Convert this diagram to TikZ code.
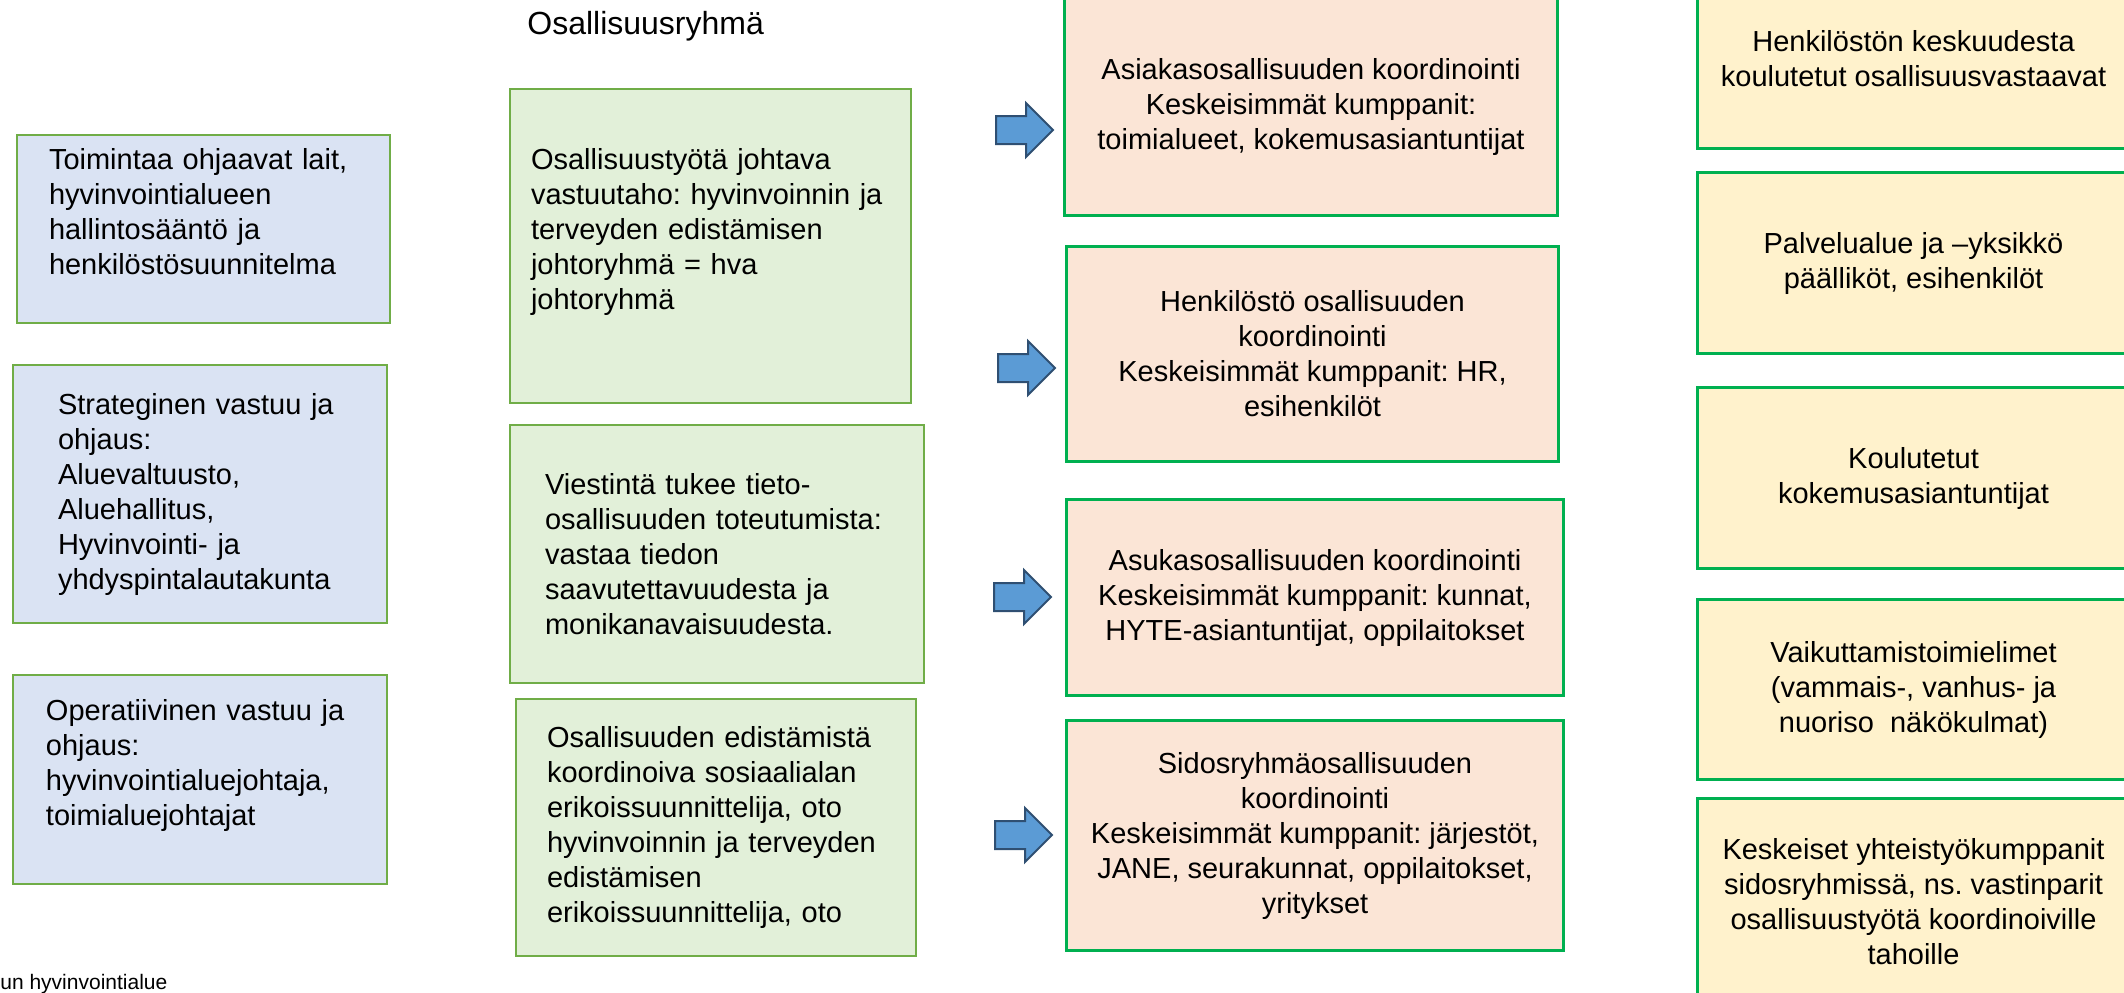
\documentclass[tikz,border=0pt]{standalone}
\usepackage{fontspec}
\setmainfont{Liberation Sans}
\usetikzlibrary{shapes.arrows}
\definecolor{BlueFill}{HTML}{DAE3F3}
\definecolor{GreenFill}{HTML}{E2F0D9}
\definecolor{PeachFill}{HTML}{FBE5D6}
\definecolor{YellowFill}{HTML}{FFF2CC}
\definecolor{OliveLine}{HTML}{70AD47}
\definecolor{BrightGreen}{HTML}{00B050}
\definecolor{ArrowBlue}{HTML}{5B9BD5}
\definecolor{ArrowLine}{HTML}{2F4F72}
\setlength{\parindent}{0pt}
\frenchspacing

\begin{document}
\begin{tikzpicture}[
  x=0.5pt, y=-0.5pt,
  every node/.style={font=\fontsize{14.5pt}{17.5pt}\selectfont},
  basebox/.style={rectangle, anchor=north west, inner ysep=0pt},
  lawbox/.style={basebox, draw=OliveLine, line width=1pt, fill=BlueFill, align=left},
  groupbox/.style={basebox, draw=OliveLine, line width=1pt, fill=GreenFill, align=left},
  coordbox/.style={basebox, draw=BrightGreen, line width=1.5pt, fill=PeachFill, align=center},
  agentbox/.style={basebox, draw=BrightGreen, line width=1.5pt, fill=YellowFill, align=center},
  blockarrow/.style={single arrow, draw=ArrowLine, line width=1pt, fill=ArrowBlue, anchor=tail,
    inner xsep=0pt, inner ysep=6.5pt, minimum height=28.5pt, single arrow head extend=6.5pt}
]
\useasboundingbox (0,0) rectangle (2124,992);

% left column: steering
\node[lawbox, minimum width=186.5pt, minimum height=94pt, text width=154.5pt, inner xsep=16pt] (laws) at (16,134)
  {Toimintaa ohjaavat lait,\\ hyvinvointialueen\\ hallintosääntö ja\\ henkilöstösuunnitelma\\ \mbox{}};
\node[lawbox, minimum width=187pt, minimum height=129pt, text width=142pt, inner xsep=22.5pt] (strategic) at (12,364)
  {Strateginen vastuu ja\\ ohjaus:\\ Aluevaltuusto,\\ Aluehallitus,\\ Hyvinvointi- ja\\ yhdyspintalautakunta};
\node[lawbox, minimum width=187pt, minimum height=104.5pt, text width=154pt, inner xsep=16.5pt] (operative) at (12,674)
  {Operatiivinen vastuu ja\\ ohjaus:\\ hyvinvointialuejohtaja,\\ toimialuejohtajat\\ \mbox{}};

% participation group
\node[font=\fontsize{16pt}{19pt}\selectfont, anchor=base west, inner sep=0pt] (title) at (527,34) {Osallisuusryhmä};
\node[groupbox, minimum width=200.5pt, minimum height=157pt, text width=179.5pt, inner xsep=10.5pt] (lead) at (509,88)
  {Osallisuustyötä johtava\\ vastuutaho: hyvinvoinnin ja\\ terveyden edistämisen\\ johtoryhmä = hva\\ johtoryhmä\\ \mbox{}};
\node[groupbox, minimum width=207pt, minimum height=129pt, text width=172pt, inner xsep=17.5pt] (comms) at (509,424)
  {Viestintä tukee tieto-\\ osallisuuden toteutumista:\\ vastaa tiedon\\ saavutettavuudesta ja\\ monikanavaisuudesta.};
\node[groupbox, minimum width=200pt, minimum height=128.5pt, text width=169pt, inner xsep=15.5pt] (planners) at (515,698)
  {Osallisuuden edistämistä\\ koordinoiva sosiaalialan\\ erikoissuunnittelija, oto\\ hyvinvoinnin ja terveyden\\ edistämisen\\ erikoissuunnittelija, oto};

% block arrows
\node[blockarrow] (arr1) at (995,130) {};
\node[blockarrow] (arr2) at (997,368) {};
\node[blockarrow] (arr3) at (993,597) {};
\node[blockarrow] (arr4) at (994,835) {};

% coordination
\node[coordbox, minimum width=246.5pt, minimum height=108.5pt] (client) at (1063,-3)
  {Asiakasosallisuuden koordinointi\\ Keskeisimmät kumppanit:\\ toimialueet, kokemusasiantuntijat};
\node[coordbox, minimum width=246pt, minimum height=107.5pt] (staff) at (1065,245)
  {Henkilöstö osallisuuden\\ koordinointi\\ Keskeisimmät kumppanit: HR,\\ esihenkilöt};
\node[coordbox, minimum width=248.5pt, minimum height=98pt] (resident) at (1065,498)
  {Asukasosallisuuden koordinointi\\ Keskeisimmät kumppanit: kunnat,\\ HYTE-asiantuntijat, oppilaitokset};
\node[coordbox, minimum width=248.5pt, minimum height=115pt] (stakeholder) at (1065,719)
  {Sidosryhmäosallisuuden\\ koordinointi\\ Keskeisimmät kumppanit: järjestöt,\\ JANE, seurakunnat, oppilaitokset,\\ yritykset};

% right column
\node[agentbox, minimum width=216pt, minimum height=89.5pt] (trained) at (1696,-32)
  {Henkilöstön keskuudesta\\ koulutetut osallisuusvastaavat};
\node[agentbox, minimum width=216pt, minimum height=90.5pt] (managers) at (1696,171)
  {Palvelualue ja –yksikkö\\ päälliköt, esihenkilöt};
\node[agentbox, minimum width=216pt, minimum height=90.5pt] (experts) at (1696,386)
  {Koulutetut\\ kokemusasiantuntijat};
\node[agentbox, minimum width=216pt, minimum height=90pt] (councils) at (1696,598)
  {Vaikuttamistoimielimet\\ (vammais-, vanhus- ja\\ nuoriso~ näkökulmat)};
\node[agentbox, minimum width=216pt, minimum height=103pt] (partners) at (1696,797)
  {Keskeiset yhteistyökumppanit\\ sidosryhmissä, ns. vastinparit\\ osallisuustyötä koordinoiville\\ tahoille};

\node[font=\fontsize{10.5pt}{12.5pt}\selectfont, anchor=base west, inner sep=0pt] (region) at (0,989) {un hyvinvointialue};

\end{tikzpicture}
\end{document}
